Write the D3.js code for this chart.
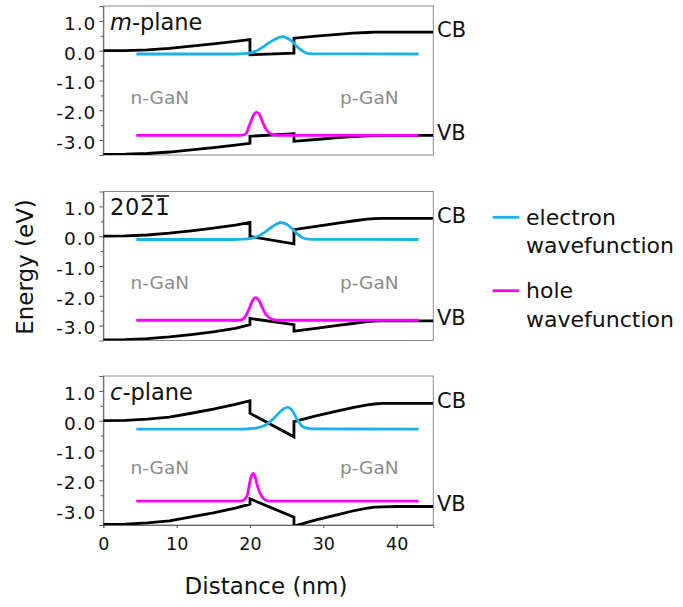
<!DOCTYPE html>
<html><head><meta charset="utf-8">
<script src="https://cdn.jsdelivr.net/npm/d3@7/dist/d3.min.js"></script>
<style>
body{margin:0;background:#fff;}
svg{display:block;font-family:"DejaVu Sans",Verdana,sans-serif;}
</style>
</head><body>
<svg id="chart" width="683" height="607"></svg>
<script>
// ---------- data ----------
const panelNames = ["m-plane", "2021", "c-plane"];
const bandX = [0, 3, 6, 9, 12, 15, 18, 20, 20, 26, 26, 29, 32, 34, 36, 37, 38, 40, 45];

const cbM = [0, 0.005, 0.03, 0.08, 0.15, 0.23, 0.31, 0.37, -0.14, -0.08, 0.42, 0.49, 0.55, 0.59, 0.61, 0.62, 0.62, 0.62, 0.62];
const vbM = [-3.48, -3.475, -3.45, -3.40, -3.33, -3.25, -3.17, -3.11, -2.87, -2.79, -3.04, -2.98, -2.92, -2.88, -2.855, -2.845, -2.84, -2.84, -2.84];

const cbS = [0, 0.01, 0.04, 0.10, 0.18, 0.27, 0.37, 0.46, -0.01, -0.26, 0.22, 0.33, 0.44, 0.51, 0.57, 0.59, 0.60, 0.60, 0.60];
const vbS = [-3.48, -3.47, -3.44, -3.38, -3.30, -3.21, -3.09, -2.97, -2.76, -2.97, -3.19, -3.09, -2.99, -2.93, -2.87, -2.85, -2.84, -2.84, -2.84];

const cbC = [0, 0.01, 0.05, 0.12, 0.25, 0.39, 0.55, 0.67, 0.25, -0.54, -0.03, 0.16, 0.33, 0.44, 0.53, 0.56, 0.58, 0.58, 0.58];
const vbC = [-3.48, -3.47, -3.43, -3.36, -3.23, -3.09, -2.93, -2.80, -2.62, -3.24, -3.54, -3.33, -3.15, -3.03, -2.93, -2.90, -2.89, -2.88, -2.88];

const elecXM = [4.5, 18, 19, 20, 21, 22, 23, 24, 24.4, 25, 25.5, 26, 26.5, 27, 27.7, 28.5, 43];
const elecYM = [-0.11, -0.11, -0.10, -0.07, 0.01, 0.16, 0.33, 0.45, 0.47, 0.43, 0.36, 0.25, 0.12, 0.02, -0.08, -0.105, -0.11];
const elecXS = [4.5, 18, 19, 20, 21, 22, 23, 24, 24.2, 25, 25.5, 26, 26.5, 27, 27.7, 28.5, 43];
const elecYS = [-0.11, -0.11, -0.10, -0.08, -0.01, 0.13, 0.31, 0.45, 0.46, 0.40, 0.31, 0.19, 0.07, -0.03, -0.09, -0.105, -0.11];
const elecXC = [4.5, 19, 20, 21, 22, 23, 24, 24.6, 25.1, 25.6, 26.1, 26.6, 27.1, 27.8, 28.5, 43];
const elecYC = [-0.28, -0.28, -0.27, -0.24, -0.16, 0.02, 0.27, 0.40, 0.45, 0.39, 0.20, -0.03, -0.18, -0.25, -0.275, -0.28];

const holeXM = [4.5, 18.8, 19.4, 20.0, 20.5, 20.9, 21.3, 21.6, 22.0, 22.3, 22.7, 23.1, 23.8, 43];
const holeYM = [-2.84, -2.84, -2.80, -2.45, -2.16, -2.07, -2.14, -2.32, -2.55, -2.67, -2.77, -2.82, -2.84, -2.84];
const holeXS = [4.5, 18.6, 19.3, 20.0, 20.4, 20.8, 21.2, 21.6, 22.0, 22.3, 22.7, 23.2, 24.0, 43];
const holeYS = [-2.82, -2.82, -2.72, -2.37, -2.14, -2.06, -2.14, -2.35, -2.55, -2.66, -2.75, -2.80, -2.82, -2.82];
const holeXC = [4.5, 18.6, 19.2, 19.6, 20.0, 20.2, 20.45, 20.7, 20.95, 21.4, 21.8, 22.3, 23.0, 43];
const holeYC = [-2.70, -2.70, -2.66, -2.52, -2.05, -1.86, -1.77, -1.87, -2.13, -2.45, -2.60, -2.68, -2.70, -2.70];

const yTicks = [1, 0, -1, -2, -3];
const yTickLabels = ["1.0", "0.0", "-1.0", "-2.0", "-3.0"];
const yMinorTicks = [0.5, -0.5, -1.5, -2.5];
const xTicks = [0, 10, 20, 30, 40];
const legendLabels = [["electron", "wavefunction"], ["hole", "wavefunction"]];
const colors = {cb: "#000000", elec: "#1ab2ea", hole: "#ff00ff"};

// ---------- layout ----------
const svg = d3.select("#chart");
const x = d3.scaleLinear().domain([0, 45]).range([103.3, 433.3]);
const panelTops = [6, 191.5, 376];
const panelH = 149;
const panels = [
  {name: panelNames[0], cb: cbM, vb: vbM, ex: elecXM, ey: elecYM, hx: holeXM, hy: holeYM},
  {name: panelNames[1], cb: cbS, vb: vbS, ex: elecXS, ey: elecYS, hx: holeXS, hy: holeYS},
  {name: panelNames[2], cb: cbC, vb: vbC, ex: elecXC, ey: elecYC, hx: holeXC, hy: holeYC}
];
const FRAME = "#8a8a8a";

panels.forEach((p, i) => {
  const top = panelTops[i];
  const y = d3.scaleLinear().domain([-3.5, 1.5]).range([top + panelH, top]);
  const g = svg.append("g");
  const clipId = "clip" + i;
  svg.append("clipPath").attr("id", clipId).append("rect")
    .attr("x", x(0)).attr("y", top).attr("width", x(45) - x(0)).attr("height", panelH);

  // frame
  g.append("rect").attr("x", x(0)).attr("y", top).attr("width", x(45) - x(0)).attr("height", panelH)
    .attr("fill", "none").attr("stroke", FRAME).attr("stroke-width", 1);

  // y axis major
  const ax = d3.axisLeft(y).tickValues(yTicks).tickSize(4).tickFormat((d, k) => yTickLabels[k]);
  const ag = g.append("g").attr("transform", `translate(${x(0)},0)`).call(ax);
  ag.select(".domain").attr("stroke", "#666");
  ag.selectAll(".tick line").attr("stroke", "#555");
  ag.selectAll(".tick text").attr("font-size", 18.5).attr("fill", "#111")
    .attr("font-family", "DejaVu Sans").attr("letter-spacing", 1)
    .attr("x", -7).attr("dy", "0.45em");
  // minor
  const am = d3.axisLeft(y).tickValues(yMinorTicks).tickSize(2.5).tickFormat("");
  const mg = g.append("g").attr("transform", `translate(${x(0)},0)`).call(am);
  mg.select(".domain").remove();
  mg.selectAll(".tick line").attr("stroke", "#555");

  // bands
  const line = d3.line().x(d => x(d[0])).y(d => y(d[1]));
  const cg = g.append("g").attr("clip-path", `url(#${clipId})`);
  cg.append("path").datum(bandX.map((v, k) => [v, p.cb[k]])).attr("d", line)
    .attr("fill", "none").attr("stroke", colors.cb).attr("stroke-width", 2.8).attr("stroke-linejoin", "miter");
  cg.append("path").datum(bandX.map((v, k) => [v, p.vb[k]])).attr("d", line)
    .attr("fill", "none").attr("stroke", colors.cb).attr("stroke-width", 2.8);

  const smooth = d3.line().x(d => x(d[0])).y(d => y(d[1])).curve(d3.curveMonotoneX);
  cg.append("path").datum(p.ex.map((v, k) => [v, p.ey[k]])).attr("d", smooth)
    .attr("fill", "none").attr("stroke", colors.elec).attr("stroke-width", 2.8);
  cg.append("path").datum(p.hx.map((v, k) => [v, p.hy[k]])).attr("d", smooth)
    .attr("fill", "none").attr("stroke", colors.hole).attr("stroke-width", 2.8);

  // right labels
  g.append("text").attr("x", 437).attr("y", y(p.cb[p.cb.length - 1]) + 4.5)
    .attr("font-size", 21).attr("fill", "#111").text("CB");
  g.append("text").attr("x", 437).attr("y", y(p.vb[p.vb.length - 1]) + 4.5)
    .attr("font-size", 21).attr("fill", "#111").text("VB");

  // region labels
  g.append("text").attr("x", 130.5).attr("y", top + 97.5).attr("font-size", 18.5)
    .attr("fill", "#8c8c8c").text("n-GaN");
  g.append("text").attr("x", 340).attr("y", top + 97.5).attr("font-size", 18.5)
    .attr("fill", "#8c8c8c").text("p-GaN");

  // panel label
  const baseY = top + 23.5;
  const lab = g.append("text").attr("x", 110).attr("y", baseY).attr("font-size", 22.5).attr("fill", "#111");
  if (i === 0) {
    lab.append("tspan").attr("font-style", "italic").text("m");
    lab.append("tspan").text("-plane");
  } else if (i === 2) {
    lab.append("tspan").attr("font-style", "italic").text("c");
    lab.append("tspan").text("-plane");
  } else {
    lab.attr("letter-spacing", 0.8).text(p.name);
    const node = lab.node();
    [2, 3].forEach(ci => {
      const x0 = 110 + node.getSubStringLength(0, ci);
      const w = node.getSubStringLength(ci, 1);
      g.append("line").attr("x1", x0 + 1).attr("x2", x0 + w - 1.5)
        .attr("y1", baseY - 19).attr("y2", baseY - 19)
        .attr("stroke", "#111").attr("stroke-width", 1.6);
    });
  }

  // x axis for bottom panel
  if (i === 2) {
    const xa = d3.axisBottom(x).tickValues(xTicks).tickSize(3).tickFormat(d3.format("d"));
    const xg = g.append("g").attr("transform", `translate(0,${top + panelH})`).call(xa);
    xg.select(".domain").attr("stroke", "#666");
    xg.selectAll(".tick line").attr("stroke", "#555");
    xg.selectAll(".tick text").attr("font-size", 17.5).attr("fill", "#111")
      .attr("font-family", "DejaVu Sans").attr("y", 7).attr("dy", "1.05em");
  }
});

// axis titles
svg.append("text").attr("transform", "translate(32.5,267) rotate(-90)")
  .attr("text-anchor", "middle").attr("font-size", 23).attr("fill", "#111").text("Energy (eV)");
svg.append("text").attr("x", 266).attr("y", 594)
  .attr("text-anchor", "middle").attr("font-size", 23).attr("fill", "#111").text("Distance (nm)");

// legend
const legY = [217.3, 290.7];
const legColors = [colors.elec, colors.hole];
legendLabels.forEach((lines, k) => {
  svg.append("line").attr("x1", 492.7).attr("x2", 519.3).attr("y1", legY[k]).attr("y2", legY[k])
    .attr("stroke", legColors[k]).attr("stroke-width", 2.8);
  lines.forEach((t, j) => {
    svg.append("text").attr("x", 526).attr("y", legY[k] + 7.5 + j * 28.5)
      .attr("font-size", 22).attr("fill", "#111").text(t);
  });
});
</script>
</body></html>
